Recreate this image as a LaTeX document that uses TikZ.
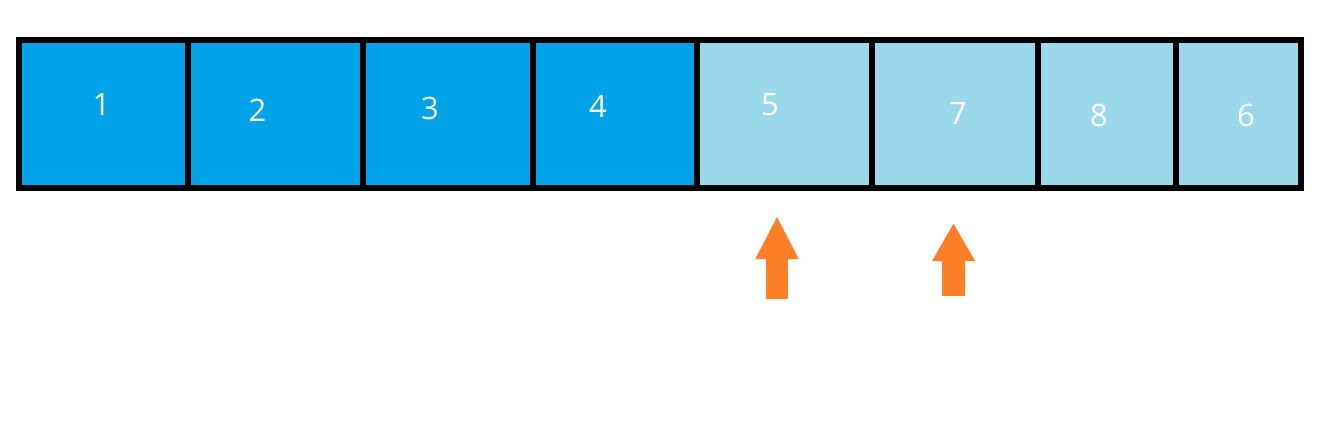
\documentclass[tikz,border=0pt]{standalone}
\usepackage{fontspec}
\setmainfont{Open Sans}
\usetikzlibrary{arrows.meta}
\definecolor{darkcell}{HTML}{00A2E8}
\definecolor{lightcell}{HTML}{99D9EA}
\definecolor{arroworange}{HTML}{FF7F27}
\begin{document}
\begin{tikzpicture}[x=0.02cm, y=-0.02cm,
  cell/.style={rectangle, draw=black, line width=0.12cm, anchor=west,
    minimum height=2.97cm, inner sep=0pt, outer sep=0pt},
  digit/.style={text=white, inner sep=0pt, font=\fontsize{17.6}{20}\selectfont},
  uparrow/.style={draw=arroworange, line width=0.45cm,
    -{Triangle[width=0.8cm,length=#1]}}, uparrow/.default=0.76cm]

\useasboundingbox (0,0) rectangle (1327,424);

\draw (19,113.75) node[cell, fill=darkcell, minimum width=3.38cm] (c1) {}
      (188,113.75) node[cell, fill=darkcell, minimum width=3.5cm] (c2) {}
      (363,113.75) node[cell, fill=darkcell, minimum width=3.4cm] (c3) {}
      (533,113.75) node[cell, fill=darkcell, minimum width=3.28cm] (c4) {}
      (697,113.75) node[cell, fill=lightcell, minimum width=3.5cm] (c5) {}
      (872,113.75) node[cell, fill=lightcell, minimum width=3.32cm] (c7) {}
      (1038,113.75) node[cell, fill=lightcell, minimum width=2.76cm] (c8) {}
      (1176,113.75) node[cell, fill=lightcell, minimum width=2.5cm] (c6) {};

\draw (101.5,104.5) node[digit] (n1) {1} (257.5,110.5) node[digit] (n2) {2}
      (430,108) node[digit] (n3) {3} (598,106) node[digit] (n4) {4}
      (770,105) node[digit] (n5) {5} (958,113) node[digit] (n7) {7}
      (1099,115) node[digit] (n8) {8} (1246,115) node[digit] (n6) {6};

\coordinate (a5) at (777,298.5);
\coordinate (a7) at (953.5,296);
\draw[uparrow=0.86cm] (a5) -- ++(0,-82.5);
\draw[uparrow] (a7) -- ++(0,-73);
\end{tikzpicture}
\end{document}
